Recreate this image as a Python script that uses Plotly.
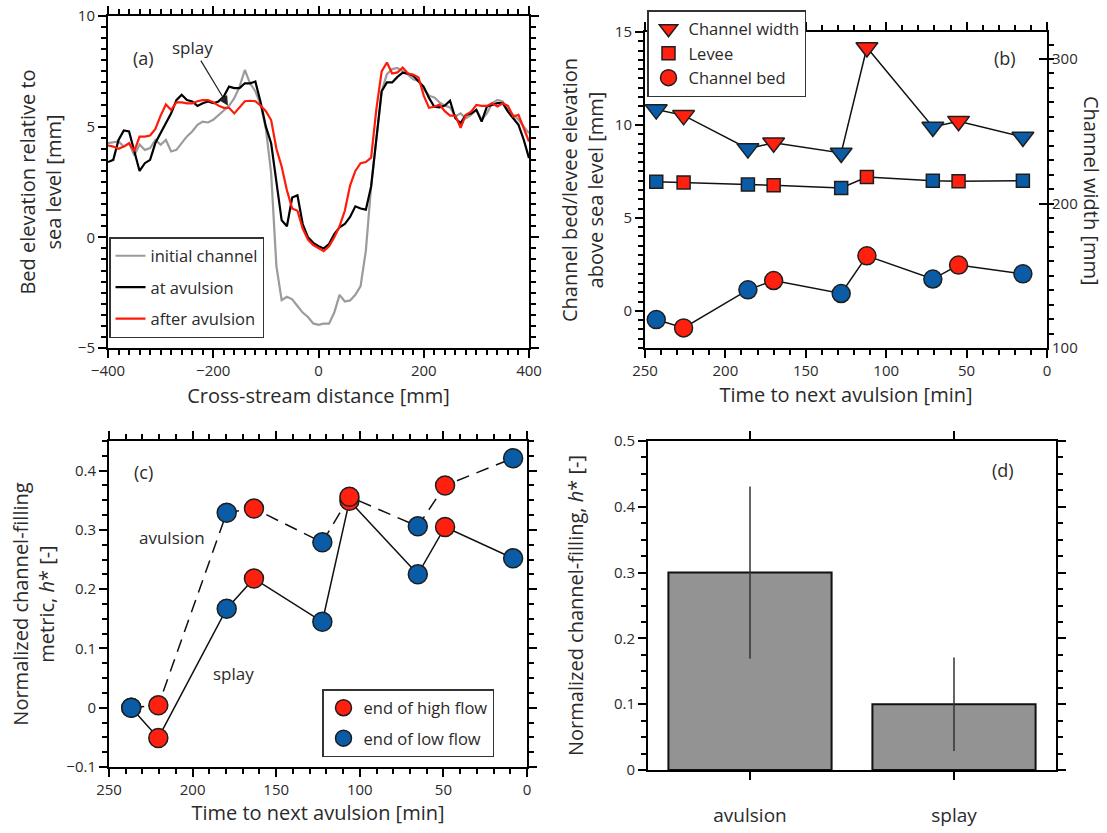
import plotly.graph_objects as go

W, H = 1107, 833
def px(x): return x / W
def py(y): return 1 - y / H

FONT = "Open Sans"
TXT = "#2a2a2a"
RED = "#ff2010"
BLUE = "#0b5ca6"
EDGE = "#1e1e1e"

# ---------------- Panel (a): cross-stream profiles ----------------
x_mm = list(range(-400, 401, 10))
initial_channel = [4.26, 4.28, 4.33, 4.10, 4.26, 3.70, 4.20, 3.95, 4.03, 4.40,
                   4.18, 4.40, 3.88, 3.95, 4.26, 4.56, 4.78, 5.08, 5.23, 5.19,
                   5.31, 5.53, 5.76, 5.94, 6.29, 6.81, 7.56, 6.96, 6.60, 6.00,
                   4.90, 2.90, -1.30, -2.84, -2.69, -2.80, -3.10, -3.40, -3.60, -3.89,
                   -3.95, -3.90, -3.90, -3.40, -2.60, -2.90, -2.85, -2.60, -2.20, -0.60,
                   2.30, 4.50, 6.60, 7.37, 7.60, 7.65, 7.50, 7.35, 7.14, 7.07,
                   6.70, 6.40, 6.32, 6.10, 5.95, 5.87, 5.46, 5.60, 5.38, 5.53,
                   5.76, 5.31, 5.60, 6.06, 6.21, 6.14, 5.76, 5.53, 5.31, 5.00,
                   4.70]
at_avulsion = [3.40, 3.50, 4.40, 4.83, 4.78, 3.95, 3.00, 3.35, 3.50, 4.26,
               4.70, 5.16, 5.60, 6.20, 6.44, 6.20, 6.14, 5.94, 6.06, 6.14,
               6.06, 6.14, 6.36, 6.81, 6.74, 6.74, 6.96, 6.96, 7.04, 6.10,
               5.00, 4.25, 2.50, 0.77, 0.50, 1.80, 1.90, 0.60, 0.00, -0.25,
               -0.40, -0.50, -0.30, 0.15, 0.45, 0.60, 0.92, 1.40, 1.30, 1.25,
               2.30, 4.40, 6.60, 7.00, 7.00, 7.25, 7.44, 7.40, 7.30, 7.05,
               6.80, 6.30, 5.90, 5.87, 5.95, 6.17, 5.38, 5.16, 5.53, 5.60,
               5.76, 5.23, 5.91, 5.98, 6.06, 6.06, 5.68, 5.38, 5.08, 4.41,
               3.58]
after_avulsion = [4.15, 4.10, 4.00, 4.10, 4.25, 3.90, 4.55, 4.55, 4.60, 4.90,
                  5.50, 6.00, 5.75, 6.10, 6.10, 6.05, 6.05, 6.15, 6.20, 6.20,
                  6.10, 5.95, 5.85, 5.85, 5.60, 5.90, 6.15, 6.17, 6.15, 5.95,
                  5.70, 5.30, 4.00, 3.20, 2.12, 1.30, 1.20, 0.40, -0.10, -0.35,
                  -0.50, -0.62, -0.40, 0.00, 0.50, 1.20, 2.34, 3.00, 3.35, 3.40,
                  3.60, 5.80, 7.50, 7.90, 7.40, 7.45, 7.67, 7.40, 7.35, 7.22,
                  6.40, 5.85, 5.90, 6.00, 5.70, 5.50, 5.50, 4.95, 5.53, 5.68,
                  5.98, 5.94, 5.94, 6.06, 5.91, 6.06, 5.94, 5.46, 5.53, 4.93,
                  4.33]

# ---------------- Panel (b): channel evolution ----------------
t_b = [243, 226, 186, 170, 128, 112, 71, 55, 15]
channel_bed = [-0.47, -0.92, 1.13, 1.63, 0.93, 2.96, 1.71, 2.46, 1.99]
levee = [6.95, 6.91, 6.79, 6.75, 6.61, 7.20, 7.00, 6.97, 7.00]
channel_width = [265, 261, 238, 242, 235, 308, 253, 257, 246]
flow_b = ["low", "high", "low", "high", "low", "high", "low", "high", "low"]

# ---------------- Panel (c): channel-filling metric ----------------
t_c = [236.7, 220.5, 179.6, 163.3, 122.4, 106.2, 65.3, 49.0, 8.3]
h_avulsion = [0.000, 0.004, 0.329, 0.336, 0.279, 0.356, 0.306, 0.375, 0.421]
h_splay = [0.000, -0.051, 0.167, 0.218, 0.145, 0.349, 0.225, 0.305, 0.252]
flow_c = ["low", "high", "low", "high", "low", "high", "low", "high", "low"]

# ---------------- Panel (d): mean channel-filling ----------------
d_cats = ["avulsion", "splay"]
d_vals = [0.30, 0.10]
d_errs = [0.131, 0.071]

fig = go.Figure()

# (a)
for name, ys, col, grp in [("initial channel", initial_channel, "#9b9b9b", "a1"),
                           ("at avulsion", at_avulsion, "#000000", "a2"),
                           ("after avulsion", after_avulsion, "#ff1a0a", "a3")]:
    fig.add_trace(go.Scatter(x=x_mm, y=ys, mode="lines", name=name,
                             line=dict(color=col, width=2.2),
                             legend="legend", legendgroup=grp,
                             xaxis="x", yaxis="y"))

def pick(xs, ys, flags, want):
    return ([x for x, f in zip(xs, flags) if f == want],
            [y for y, f in zip(ys, flags) if f == want])

# (b) lines
for ys, ya in [(channel_width, "y3"), (levee, "y2"), (channel_bed, "y2")]:
    fig.add_trace(go.Scatter(x=t_b, y=ys, mode="lines", showlegend=False,
                             line=dict(color="#111", width=1.5),
                             xaxis="x2", yaxis=ya, hoverinfo="skip"))
# (b) markers
specs_b = [("Channel width", channel_width, "y3", "triangle-down", 19, "b1"),
           ("Levee", levee, "y2", "square", 13, "b2"),
           ("Channel bed", channel_bed, "y2", "circle", 18, "b3")]
for name, ys, ya, sym, sz, grp in specs_b:
    xb, yb = pick(t_b, ys, flow_b, "low")
    fig.add_trace(go.Scatter(x=xb, y=yb, mode="markers", showlegend=False,
                             marker=dict(symbol=sym, size=sz, color=BLUE,
                                         line=dict(color=EDGE, width=1.5)),
                             xaxis="x2", yaxis=ya))
for name, ys, ya, sym, sz, grp in specs_b:
    xr, yr = pick(t_b, ys, flow_b, "high")
    fig.add_trace(go.Scatter(x=xr, y=yr, mode="markers", name=name,
                             legend="legend2", legendgroup=grp,
                             marker=dict(symbol=sym, size=sz, color=RED,
                                         line=dict(color=EDGE, width=1.5)),
                             xaxis="x2", yaxis=ya))

# (c) lines
fig.add_trace(go.Scatter(x=t_c, y=h_splay, mode="lines", showlegend=False,
                         line=dict(color="#111", width=1.5),
                         xaxis="x3", yaxis="y4", hoverinfo="skip"))
fig.add_trace(go.Scatter(x=t_c, y=h_avulsion, mode="lines", showlegend=False,
                         line=dict(color="#111", width=1.5, dash="13px,8px"),
                         xaxis="x3", yaxis="y4", hoverinfo="skip"))
# (c) markers
xs_all = t_c + t_c
ys_all = h_splay + h_avulsion
fl_all = flow_c + flow_c
for name, want, col, grp in [("end of high flow", "high", RED, "c1"),
                             ("end of low flow", "low", BLUE, "c2")]:
    xm, ym = pick(xs_all, ys_all, fl_all, want)
    fig.add_trace(go.Scatter(x=xm, y=ym, mode="markers", name=name,
                             legend="legend3", legendgroup=grp,
                             marker=dict(symbol="circle", size=19, color=col,
                                         line=dict(color=EDGE, width=1.5)),
                             xaxis="x3", yaxis="y4"))

# (d)
fig.add_trace(go.Bar(x=d_cats, y=d_vals, width=0.8, showlegend=False,
                     marker=dict(color="#939393", line=dict(color="#111", width=2)),
                     error_y=dict(type="data", array=d_errs, color="#333",
                                  thickness=1.5, width=0),
                     xaxis="x4", yaxis="y5"))

tickfont = dict(family=FONT, size=15, color=TXT)
titlefont = dict(family=FONT, size=20, color=TXT)

def ax(**kw):
    base = dict(showline=True, linecolor="black", linewidth=2, ticks="outside",
                ticklen=8, tickwidth=1.5, tickcolor="black", mirror="ticks",
                showgrid=False, zeroline=False, tickfont=tickfont)
    base.update(kw)
    return base

def minor(d, t0=0, side="outside"):
    return dict(ticks=side, ticklen=5, tickwidth=1.5, tickcolor="black",
                dtick=d, tick0=t0, showgrid=False)

fig.update_layout(
    width=W, height=H, margin=dict(l=0, r=0, t=0, b=0, autoexpand=False),
    paper_bgcolor="white", plot_bgcolor="white",
    font=dict(family=FONT, color=TXT),
    xaxis=ax(domain=[px(108), px(529)], anchor="y", range=[-400, 400],
             tickmode="linear", tick0=0, dtick=200, minor=minor(20),
             title=dict(text="Cross-stream distance [mm]", font=titlefont, standoff=10)),
    yaxis=ax(domain=[py(348), py(16)], anchor="x", range=[-5, 10],
             tickmode="linear", tick0=0, dtick=5, minor=minor(0.5),
             title=dict(text="Bed elevation relative to<br>sea level [mm]",
                        font=titlefont, standoff=11)),
    xaxis2=ax(domain=[px(645), px(1047)], anchor="y2", range=[250, 0],
              tickmode="linear", tick0=0, dtick=50, minor=minor(10),
              title=dict(text="Time to next avulsion [min]", font=titlefont, standoff=9)),
    yaxis2=ax(domain=[py(348), py(32)], anchor="x2", range=[-2, 15],
              tickmode="linear", tick0=0, dtick=5, mirror=False, minor=minor(0.5),
              title=dict(text="Channel bed/levee elevation<br>above sea level [mm]",
                         font=titlefont, standoff=6)),
    yaxis3=ax(overlaying="y2", anchor="x2", side="right", range=[100, 318.7],
              tickmode="linear", tick0=100, dtick=100, ticks="inside", mirror=False,
              minor=minor(10, 100)),
    xaxis3=ax(domain=[px(109), px(527)], anchor="y4", range=[250, 0],
              tickmode="linear", tick0=0, dtick=50, minor=minor(10),
              title=dict(text="Time to next avulsion [min]", font=titlefont, standoff=5)),
    yaxis4=ax(domain=[py(767), py(441)], anchor="x3", range=[-0.1, 0.45],
              tickmode="linear", tick0=0, dtick=0.1, minor=minor(0.025),
              title=dict(text="Normalized channel-filling<br>metric, <i>h</i>* [-]",
                         font=titlefont, standoff=6)),
    xaxis4=ax(domain=[px(648), px(1056)], anchor="y5", range=[-0.5, 1.5],
              tickfont=dict(family=FONT, size=19, color=TXT), ticklabelstandoff=19),
    yaxis5=ax(domain=[py(770), py(441)], anchor="x4", range=[0, 0.5],
              tickmode="linear", tick0=0, dtick=0.1, minor=minor(0.025),
              title=dict(text="Normalized channel-filling, <i>h</i>* [-]",
                         font=titlefont, standoff=25)),
    legend=dict(x=px(109), y=py(237), xanchor="left", yanchor="top",
                bgcolor="white", bordercolor="#333", borderwidth=1.5,
                font=dict(family=FONT, size=16.5, color=TXT), tracegroupgap=7),
    legend2=dict(x=px(647), y=py(10), xanchor="left", yanchor="top",
                 bgcolor="white", bordercolor="#333", borderwidth=1.5,
                 font=dict(family=FONT, size=16.5, color=TXT), tracegroupgap=0),
    legend3=dict(x=px(322), y=py(689), xanchor="left", yanchor="top",
                 bgcolor="white", bordercolor="#333", borderwidth=1.5,
                 font=dict(family=FONT, size=16.5, color=TXT), tracegroupgap=6),
    showlegend=True,
)

lab = dict(family=FONT, size=18, color=TXT)
lab2 = dict(family=FONT, size=17, color=TXT)
ann = [
    dict(x=px(143), y=py(58), text="(a)", font=lab),
    dict(x=px(1005), y=py(58), text="(b)", font=lab),
    dict(x=px(143), y=py(472), text="(c)", font=lab),
    dict(x=px(1003), y=py(470), text="(d)", font=lab),
    dict(x=px(172), y=py(537), text="avulsion", font=lab2),
    dict(x=px(233), y=py(673), text="splay", font=lab2),
]
for a in ann:
    fig.add_annotation(xref="paper", yref="paper", showarrow=False,
                       xanchor="center", yanchor="middle", **a)
fig.add_annotation(xref="paper", yref="paper", x=px(1092), y=py(190),
                   xanchor="center", yanchor="middle",
                   text="Channel width [mm]", textangle=90, showarrow=False, font=titlefont)
fig.add_annotation(xref="x", yref="y", x=-172, y=5.95, text="splay", showarrow=True,
                   ax=-35, ay=-58, arrowhead=2, arrowsize=1.6, arrowwidth=1.2,
                   arrowcolor="#222", font=lab2)

fig.write_html("out.html",
               config={"displayModeBar": False},
               post_script="document.body.style.margin='0px';"
                           "document.body.style.padding='0px';"
                           "document.documentElement.style.overflow='hidden';")
